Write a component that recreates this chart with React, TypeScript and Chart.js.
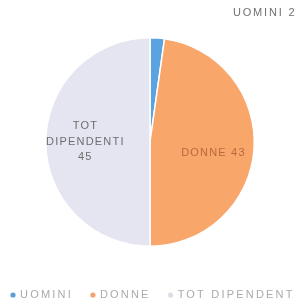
import React, { useEffect, useRef } from "react";
import { Chart, registerables } from "chart.js";

Chart.register(...registerables);

const categories = ["UOMINI", "DONNE", "TOT DIPENDENTI"];
const values = [2, 43, 45];
const colors = ["#5ba3e0", "#f9a66b", "#e4e5f1"];
const legendDotColors = ["#5b9fd8", "#f5a36e", "#dcdde6"];

const FONT = "'Liberation Sans', Arial, sans-serif";

const labelPlugin = {
  id: "sliceLabels",
  afterDatasetsDraw(chart: any) {
    const { ctx, chartArea } = chart;
    const meta = chart.getDatasetMeta(0);
    ctx.save();
    ctx.textBaseline = "middle";
    ctx.font = `11px ${FONT}`;
    (ctx as any).letterSpacing = "1.2px";
    meta.data.forEach((arc: any, i: number) => {
      const p = arc.getProps(["x", "y", "startAngle", "endAngle", "outerRadius"], true);
      const mid = (p.startAngle + p.endAngle) / 2;
      const name = categories[i];
      const v = values[i];
      if (i === 0) {
        ctx.fillStyle = "#707070";
        ctx.textAlign = "left";
        (ctx as any).letterSpacing = "1.8px";
        ctx.fillText(`${name} ${v}`, chartArea.right - 22, chartArea.top - 24);
        (ctx as any).letterSpacing = "1.2px";
      } else if (i === 1) {
        const r = p.outerRadius * 0.61;
        ctx.fillStyle = "#b8693e";
        ctx.textAlign = "center";
        ctx.fillText(`${name} ${v}`, p.x + Math.cos(mid) * r, p.y + Math.sin(mid) * r + 7);
      } else {
        const r = p.outerRadius * 0.62;
        const cx = p.x + Math.cos(mid) * r;
        const cy = p.y + Math.sin(mid) * r;
        ctx.fillStyle = "#6e6e6e";
        ctx.textAlign = "center";
        ctx.fillText("TOT", cx, cy - 16);
        ctx.fillText("DIPENDENTI", cx, cy);
        ctx.fillText(String(v), cx, cy + 15);
      }
    });
    ctx.restore();
  },
};

const legendPlugin = {
  id: "bottomLegend",
  afterDraw(chart: any) {
    const { ctx, chartArea } = chart;
    ctx.save();
    ctx.font = `11px ${FONT}`;
    (ctx as any).letterSpacing = "2.2px";
    ctx.textBaseline = "middle";
    ctx.textAlign = "left";
    const y = chartArea.bottom + 48;
    let x = 13;
    categories.forEach((name, i) => {
      ctx.fillStyle = legendDotColors[i];
      ctx.beginPath();
      ctx.arc(x, y, 2.6, 0, Math.PI * 2);
      ctx.fill();
      ctx.fillStyle = "#ababab";
      ctx.fillText(name, x + 7, y);
      x += 7 + ctx.measureText(name).width + 20;
    });
    ctx.restore();
  },
};

export default function App() {
  const ref = useRef<HTMLCanvasElement>(null);
  useEffect(() => {
    document.body.style.margin = "0";
    const chart = new Chart(ref.current!, {
      type: "pie",
      data: {
        labels: categories,
        datasets: [
          {
            data: values,
            backgroundColor: colors,
            borderColor: "#ffffff",
            borderWidth: 1.5,
          },
        ],
      },
      options: {
        animation: false,
        responsive: false,
        layout: { padding: { top: 37, left: 45, right: 39, bottom: 61 } },
        plugins: {
          tooltip: { enabled: false },
          legend: { display: false },
        },
      },
      plugins: [labelPlugin, legendPlugin],
    });
    return () => chart.destroy();
  }, []);
  return (
    <div style={{ width: 294, height: 308, background: "#fff" }}>
      <canvas ref={ref} width={294} height={308} />
    </div>
  );
}
